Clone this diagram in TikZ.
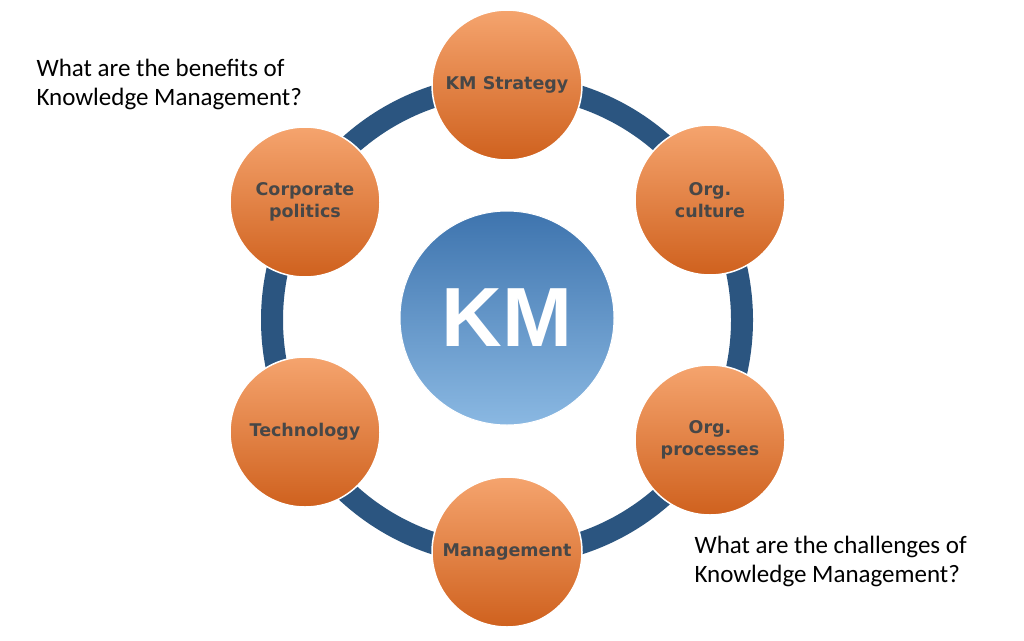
\documentclass[tikz,border=0pt]{standalone}
\usepackage{fontspec}
\setmainfont{Carlito}
\newfontfamily\lblfont{DejaVu Sans}
\newfontfamily\kmfont{Liberation Sans}
\begin{document}
\begin{tikzpicture}[x=1pt,y=-1pt]
\definecolor{ringc}{HTML}{2B5580}
\definecolor{otop}{HTML}{F5A46E}
\definecolor{obot}{HTML}{CF611E}
\definecolor{ktop}{HTML}{3E74AE}
\definecolor{kbot}{HTML}{8AB8E2}
\tikzset{
 orb/.style={circle,minimum size=150pt,inner sep=0pt,draw=white,line width=1.5pt,
   top color=otop,bottom color=obot,align=center,
   font=\lblfont\bfseries\fontsize{17.5}{22}\selectfont,text=black!72},
 q/.style={anchor=north west,align=left,font=\fontsize{25}{29}\selectfont}
}
\useasboundingbox (0,0) rectangle (1024,640);
\fill[white] (0,0) rectangle (1024,640);
\coordinate (c) at (507,320);
\draw[ringc,line width=22pt] (c) circle[radius=235];
\node[circle,minimum size=214pt,inner sep=0pt,draw=white,line width=1pt,
  top color=ktop,bottom color=kbot,
  font=\kmfont\bfseries\fontsize{84}{88}\selectfont,text=white] (km) at (507,318) {KM};
\node[orb] (s) at (507,85) {KM Strategy};
\node[orb] (oc) at (710,200) {Org.\\culture};
\node[orb] (op) at (710,440) {Org.\\processes};
\node[orb] (m) at (507,552) {Management};
\node[orb] (t) at (305,432) {Technology};
\node[orb] (cp) at (305,202) {Corporate\\politics};
\node[q] (q1) at (33,56) {What are the benefits of\\Knowledge Management?};
\node[q] (q2) at (691,533) {What are the challenges of\\Knowledge Management?};
\end{tikzpicture}
\end{document}
